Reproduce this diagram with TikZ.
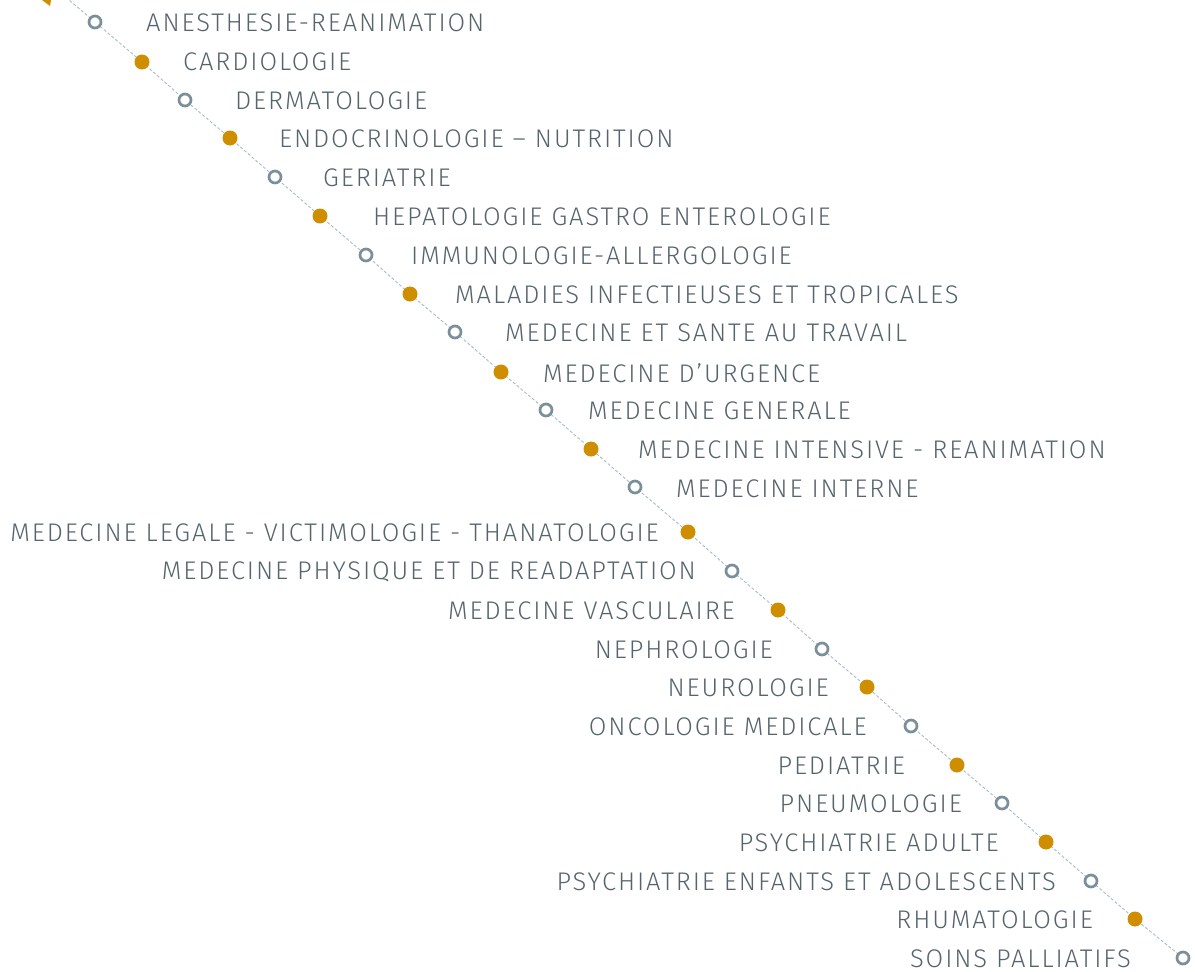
\documentclass[tikz,border=0pt]{standalone}
\usepackage{fontspec}
\setmainfont{Fira Sans}[UprightFont=* Light, LetterSpace=7.5]
\definecolor{txt}{HTML}{56646B}
\definecolor{gold}{HTML}{CF8E00}
\definecolor{ring}{HTML}{7A8F99}
\definecolor{dash}{HTML}{A9BCC4}
\tikzset{
  hollowdot/.style={circle, draw=ring, line width=2.7pt, fill=white, minimum size=12pt, inner sep=0pt},
  golddot/.style={circle, fill=gold, minimum size=15pt, inner sep=0pt},
  lab/.style={text=txt, font=\fontsize{25.5}{27}\selectfont, inner sep=0pt},
  rlab/.style={lab, anchor=west},
  llab/.style={lab, anchor=east},
  conn/.style={draw=dash, line width=0.9pt, dash pattern=on 3pt off 2pt}
}
\begin{document}
\begin{tikzpicture}[x=1pt,y=-1pt]
\useasboundingbox (0,0) rectangle (1195,972);
\fill[gold] (42,0) -- (51,0) -- (50,6) -- cycle;
\coordinate (s) at (62,-6);
\foreach \i/\x/\y in {1/95/22,2/142/62,3/185/100,4/230/138,5/275/177,6/320/216,7/366/255,8/410/294,9/455/332,10/501/372,11/546/410,12/591/449,13/635/487,14/688/532,15/732/571,16/778/610,17/822/649,18/867/687,19/911/726,20/957/765,21/1002/803,22/1046/842,23/1091/881,24/1135/919,25/1183/958}
  \coordinate (p\i) at (\x,\y);
\draw[conn] (s) -- (p1) -- (p2) -- (p3) -- (p4) -- (p5) -- (p6) -- (p7) -- (p8) -- (p9) -- (p10) -- (p11) -- (p12) -- (p13) -- (p14) -- (p15) -- (p16) -- (p17) -- (p18) -- (p19) -- (p20) -- (p21) -- (p22) -- (p23) -- (p24) -- (p25);
\foreach \i in {1,3,5,7,9,11,13,15,17,19,21,23,25} \node[hollowdot] (m\i) at (p\i) {};
\foreach \i in {2,4,6,8,10,12,14,16,18,20,22,24} \node[golddot] (m\i) at (p\i) {};
\node[rlab] (t1) at (146,23) {ANESTHESIE-REANIMATION};
\node[rlab] (t2) at (183,62) {CARDIOLOGIE};
\node[rlab] (t3) at (235,101) {DERMATOLOGIE};
\node[rlab] (t4) at (279,139) {ENDOCRINOLOGIE – NUTRITION};
\node[rlab] (t5) at (323,178) {GERIATRIE};
\node[rlab] (t6) at (373,217) {HEPATOLOGIE GASTRO ENTEROLOGIE};
\node[rlab] (t7) at (411,256) {IMMUNOLOGIE-ALLERGOLOGIE};
\node[rlab] (t8) at (455,295) {MALADIES INFECTIEUSES ET TROPICALES};
\node[rlab] (t9) at (505,333) {MEDECINE ET SANTE AU TRAVAIL};
\node[rlab] (t10) at (543,373) {MEDECINE D’URGENCE};
\node[rlab] (t11) at (588,411) {MEDECINE GENERALE};
\node[rlab] (t12) at (638,450) {MEDECINE INTENSIVE - REANIMATION};
\node[rlab] (t13) at (676,489) {MEDECINE INTERNE};
\node[llab] (t14) at (659,533) {MEDECINE LEGALE - VICTIMOLOGIE - THANATOLOGIE};
\node[llab] (t15) at (696,572) {MEDECINE PHYSIQUE ET DE READAPTATION};
\node[llab] (t16) at (735,611) {MEDECINE VASCULAIRE};
\node[llab] (t17) at (773,650) {NEPHROLOGIE};
\node[llab] (t18) at (829,688) {NEUROLOGIE};
\node[llab] (t19) at (867,727) {ONCOLOGIE MEDICALE};
\node[llab] (t20) at (905,766) {PEDIATRIE};
\node[llab] (t21) at (962,804) {PNEUMOLOGIE};
\node[llab] (t22) at (999,843) {PSYCHIATRIE ADULTE};
\node[llab] (t23) at (1056,882) {PSYCHIATRIE ENFANTS ET ADOLESCENTS};
\node[llab] (t24) at (1093,920) {RHUMATOLOGIE};
\node[llab] (t25) at (1131,959) {SOINS PALLIATIFS};
\end{tikzpicture}
\end{document}
